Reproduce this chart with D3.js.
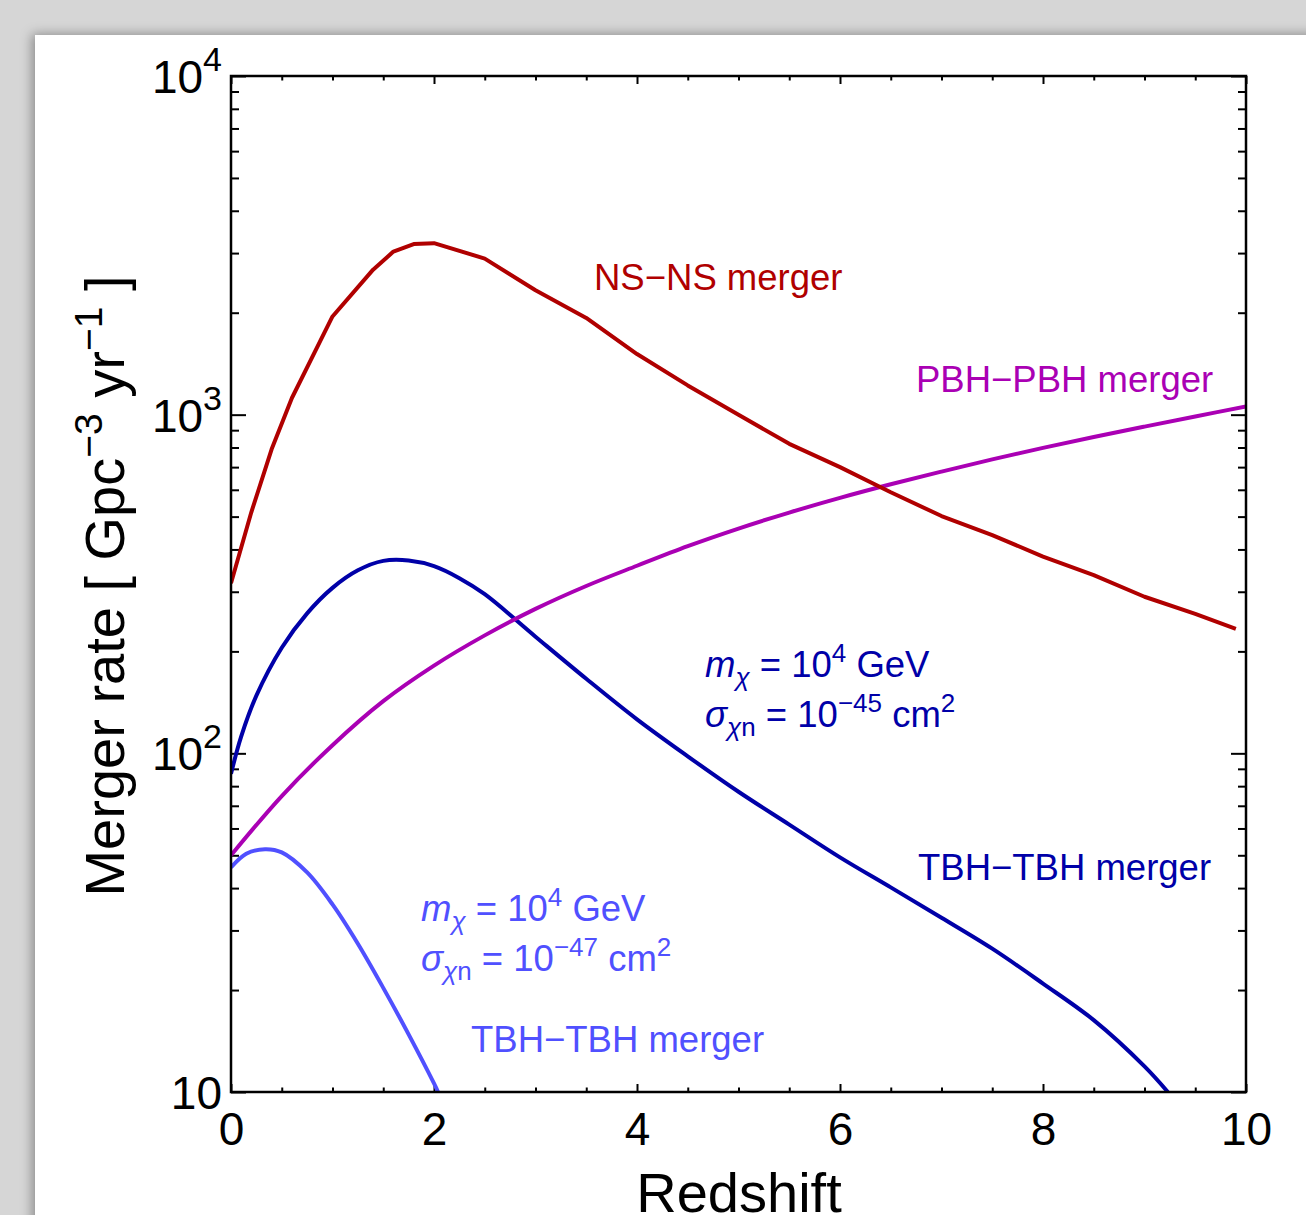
<!DOCTYPE html>
<html>
<head>
<meta charset="utf-8">
<script src="https://cdn.jsdelivr.net/npm/d3@7"></script>
<style>
html, body { margin: 0; padding: 0; background: #d6d6d6; overflow: hidden; }
svg { display: block; font-family: "Liberation Sans", Arial, Helvetica, sans-serif; }
</style>
</head>
<body>
<div id="chart"></div>
<script>
// merger rates [Gpc^-3 yr^-1] vs redshift
const zNS = [0, 0.2, 0.4, 0.6, 1.0, 1.4, 1.6, 1.8, 2.0, 2.5, 3.0, 3.5, 4.0, 4.5, 5.0, 5.5, 6.0, 6.5, 7.0, 7.5, 8.0, 8.5, 9.0, 9.5, 9.9];
const rateNS = [318, 515, 790, 1120, 1950, 2680, 3030, 3190, 3210, 2890, 2330, 1930, 1510, 1220, 1000, 820, 700, 590, 502, 441, 381, 336, 290, 258, 233];

const zPBH = [0, 0.5, 1, 1.5, 2, 2.5, 3, 3.5, 4, 4.5, 5, 5.5, 6, 6.5, 7, 7.5, 8, 8.5, 9, 9.5, 10];
const ratePBH = [50, 74.8, 105.7, 142.6, 181.6, 223, 267, 312, 358, 409, 461, 514, 568, 623, 679, 738, 798, 859, 922, 988, 1057];

const zTBH45 = [0, 0.1, 0.25, 0.5, 0.75, 1, 1.25, 1.5, 1.75, 2, 2.25, 2.5, 3, 3.5, 4, 4.5, 5, 5.5, 6, 6.5, 7, 7.5, 8, 8.5, 9, 9.23];
const rateTBH45 = [87, 112, 148, 205, 259, 308, 347, 370, 371, 357, 329, 295, 221, 166, 126, 98, 77, 61.6, 49.3, 40.2, 32.7, 26.5, 20.9, 16.3, 11.9, 10];

const zTBH47 = [0, 0.15, 0.335, 0.5, 0.75, 1, 1.25, 1.5, 1.75, 2, 2.04];
const rateTBH47 = [46, 50.5, 52.1, 51, 44.5, 35.8, 27.4, 20.3, 14.8, 10.6, 10];

const xTicks = [0, 2, 4, 6, 8, 10];
const yTicks = [10, 100, 1000, 10000];

const colNS = "#b00000", colPBH = "#aa00b4", colTBH45 = "#0000a8", colTBH47 = "#5050ff";

const W = 1306, H = 1215;
const margin = {top: 76, left: 231};
const width = 1015, height = 1016;

const svg = d3.select("#chart").append("svg")
    .attr("width", W)
    .attr("height", H);

const defs = svg.append("defs");
const f = defs.append("filter").attr("id", "shadow")
    .attr("x", -0.05).attr("y", -0.05).attr("width", 1.1).attr("height", 1.1);
f.append("feDropShadow").attr("dx", -3).attr("dy", -1)
    .attr("stdDeviation", 6).attr("flood-color", "#000").attr("flood-opacity", 0.35);
defs.append("clipPath").attr("id", "plotclip")
    .append("rect").attr("width", width).attr("height", height);

// white page
svg.append("rect")
    .attr("x", 35).attr("y", 35)
    .attr("width", W).attr("height", H)
    .attr("fill", "#fff")
    .attr("filter", "url(#shadow)");

const g = svg.append("g")
    .attr("transform", `translate(${margin.left},${margin.top})`);

const x = d3.scaleLinear().domain([0, 10]).range([0, width]);
const y = d3.scaleLog().domain([10, 1e4]).range([height, 0]);

const xMinor = d3.range(0, 10.01, 0.5).filter(v => v % 2 !== 0);
const yMinor = y.ticks().filter(v => !yTicks.includes(v));

function styleAxis(sel) {
    sel.select(".domain").remove();
    sel.selectAll(".tick line").attr("stroke", "#000").attr("stroke-width", 2);
}

// ticks point inward on all four sides
g.append("g").attr("transform", `translate(0,${height})`)
    .call(d3.axisBottom(x).tickValues(xTicks).tickSize(-8).tickPadding(20).tickFormat(d3.format("d")))
    .call(styleAxis)
    .selectAll("text").attr("font-size", 46).attr("fill", "#000")
    .attr("font-family", "Liberation Sans, Arial, sans-serif");
g.append("g").attr("transform", `translate(0,${height})`)
    .call(d3.axisBottom(x).tickValues(xMinor).tickSize(-4.5).tickFormat(""))
    .call(styleAxis);
g.append("g")
    .call(d3.axisTop(x).tickValues(xTicks).tickSize(-8).tickFormat(""))
    .call(styleAxis);
g.append("g")
    .call(d3.axisTop(x).tickValues(xMinor).tickSize(-4.5).tickFormat(""))
    .call(styleAxis);

g.append("g")
    .call(d3.axisLeft(y).tickValues(yTicks).tickSize(-15).tickFormat(""))
    .call(styleAxis);
g.append("g")
    .call(d3.axisLeft(y).tickValues(yMinor).tickSize(-8).tickFormat(""))
    .call(styleAxis);
g.append("g").attr("transform", `translate(${width},0)`)
    .call(d3.axisRight(y).tickValues(yTicks).tickSize(-15).tickFormat(""))
    .call(styleAxis);
g.append("g").attr("transform", `translate(${width},0)`)
    .call(d3.axisRight(y).tickValues(yMinor).tickSize(-8).tickFormat(""))
    .call(styleAxis);

// y tick labels as powers of ten
yTicks.forEach(v => {
    const e = Math.round(Math.log10(v));
    const t = g.append("text")
        .attr("x", -9).attr("y", y(v) + 17)
        .attr("text-anchor", "end")
        .attr("font-size", 46)
        .attr("fill", "#000");
    t.append("tspan").text("10");
    if (e > 1) t.append("tspan").attr("dy", -22).attr("font-size", 34).text(e);
});

// curves
const lineLin = d3.line().x(d => x(d[0])).y(d => y(d[1]));
const lineSmooth = d3.line().x(d => x(d[0])).y(d => y(d[1])).curve(d3.curveCatmullRom.alpha(0.5));

const curves = g.append("g").attr("clip-path", "url(#plotclip)");
function drawCurve(zs, rs, color, gen) {
    curves.append("path")
        .datum(zs.map((z, i) => [z, rs[i]]))
        .attr("fill", "none")
        .attr("stroke", color)
        .attr("stroke-width", 4)
        .attr("stroke-linejoin", "round")
        .attr("d", gen);
}
drawCurve(zTBH47, rateTBH47, colTBH47, lineSmooth);
drawCurve(zTBH45, rateTBH45, colTBH45, lineSmooth);
drawCurve(zPBH, ratePBH, colPBH, lineSmooth);
drawCurve(zNS, rateNS, colNS, lineLin);

// frame
g.append("rect")
    .attr("width", width).attr("height", height)
    .attr("fill", "none")
    .attr("stroke", "#000")
    .attr("stroke-width", 2.5);

// axis titles
svg.append("text")
    .attr("x", 739).attr("y", 1212)
    .attr("text-anchor", "middle")
    .attr("font-size", 56)
    .text("Redshift");

const yl = svg.append("text")
    .attr("transform", "translate(124,586) rotate(-90)")
    .attr("text-anchor", "middle")
    .attr("font-size", 56);
yl.append("tspan").text("Merger rate [ Gpc");
yl.append("tspan").attr("dy", -22).attr("font-size", 39).text("\u22123");
yl.append("tspan").attr("dy", 22).text(" yr");
yl.append("tspan").attr("dy", -22).attr("font-size", 39).text("\u22121");
yl.append("tspan").attr("dy", 22).text(" ]");

// annotations: parts are [text, shift, size, italic]
function rich(px, py, color, parts) {
    const t = svg.append("text")
        .attr("x", px).attr("y", py)
        .attr("fill", color)
        .attr("font-size", 36.5);
    let cur = 0;
    parts.forEach(([s, shift, size, it]) => {
        const sp = t.append("tspan").attr("dy", shift - cur).text(s);
        if (size) sp.attr("font-size", size);
        if (it) sp.attr("font-style", "italic");
        cur = shift;
    });
    return t;
}

rich(594, 290, colNS, [["NS\u2212NS merger", 0]]);
rich(916, 392, colPBH, [["PBH\u2212PBH merger", 0]]);
rich(918, 880, colTBH45, [["TBH\u2212TBH merger", 0]]);
rich(471, 1052, colTBH47, [["TBH\u2212TBH merger", 0]]);

function params(px, py, color, expo) {
    rich(px, py, color, [
        ["m", 0, null, true], ["\u03c7", 9, 26, true],
        [" = 10", 0], ["4", -15, 26], [" GeV", 0]
    ]);
    rich(px, py + 50, color, [
        ["\u03c3", 0, null, true], ["\u03c7", 9, 26, true], ["n", 9, 26],
        [" = 10", 0], [expo, -15, 26], [" cm", 0], ["2", -15, 26]
    ]);
}
params(705, 677, colTBH45, "\u221245");
params(421, 921, colTBH47, "\u221247");
</script>
</body>
</html>
